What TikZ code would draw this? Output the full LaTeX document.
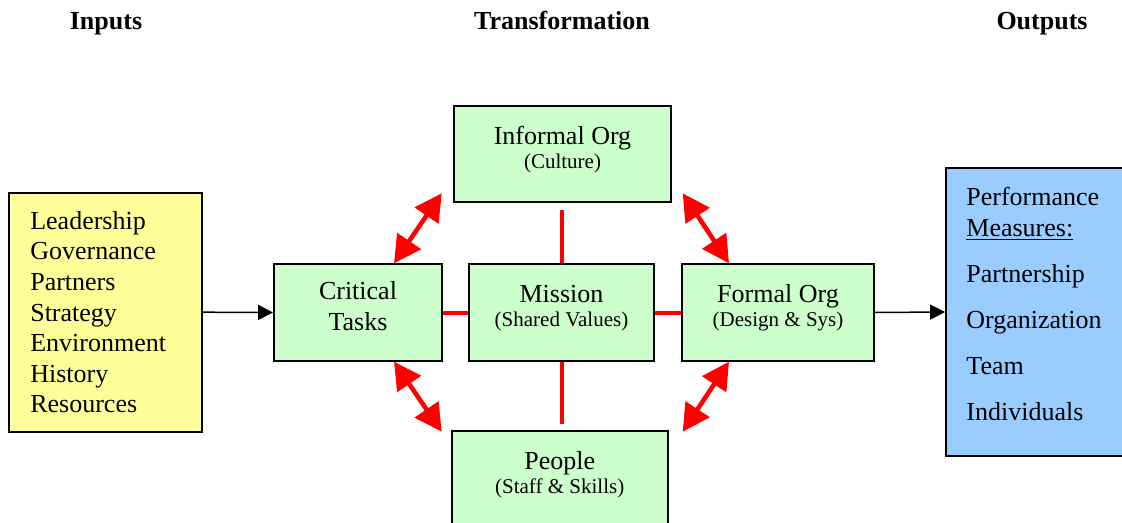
\documentclass[tikz,border=0pt]{standalone}
\usepackage{fontspec}
\setmainfont{Liberation Serif}
\usetikzlibrary{arrows.meta,positioning,calc}

\definecolor{boxgreen}{HTML}{CCFFCC}
\definecolor{boxyellow}{HTML}{FFFF99}
\definecolor{boxblue}{HTML}{99CCFF}

\newcommand{\subtxt}{\fontsize{10.5}{12.5}\selectfont}
\newcommand{\boxtext}[1]{\raisebox{2pt}[\height][\depth]{\begin{tabular}{@{}c@{}}#1\end{tabular}}}

\begin{document}
\begin{tikzpicture}[
    x=0.5pt, y=-0.5pt,
    font=\fontsize{13}{15.5}\selectfont,
    head/.style={font=\fontsize{13}{15.5}\selectfont\bfseries, anchor=base, inner sep=0pt},
    core/.style={
        draw, line width=0.9pt,
        fill=boxgreen,
        minimum height=48.5pt,
        inner sep=0pt
    },
    link/.style={red, line width=2pt},
    pull/.style={red, line width=2.3pt,
        {Triangle[length=13.5pt,width=14pt]}-{Triangle[length=13.5pt,width=14pt]}},
    flow/.style={line width=0.75pt, -{Triangle[length=7.5pt,width=7.5pt]}},
]
\useasboundingbox (0,0) rectangle (1122,523);

% column titles
\node[head] (hin)  at (106,30)  {Inputs};
\node[head] (htr)  at (562,30)  {Transformation};
\node[head] (hout) at (1042,30) {Outputs};

% inputs
\node[draw, line width=0.9pt, fill=boxyellow,
      font=\fontsize{13}{15.3}\selectfont,
      text width=75.5pt, align=left, inner xsep=10.5pt,
      minimum height=119.5pt] (inputs) at (105.8,312.2)
      {Leadership\\Governance\\Partners\\Strategy\\Environment\\History\\Resources};

% transformation
\node[core, minimum width=84pt] (crit) at (358,312.5)
      {\boxtext{Critical\\Tasks}};
\node[core, minimum width=92.5pt] (mission) at (561.5,312.5)
      {\boxtext{Mission\\[-3.5pt]{\subtxt (Shared Values)}}};
\node[core, minimum width=96pt] (formal) at (778,312.5)
      {\boxtext{Formal Org\\[-3.5pt]{\subtxt (Design \& Sys)}}};
\node[core, minimum width=108.5pt, minimum height=48pt] (informal) at (562.5,154)
      {\boxtext{Informal Org\\[-3.5pt]{\subtxt (Culture)}}};
\node[core, minimum width=108pt] (people) at (559.7,479.5)
      {\boxtext{People\\[-3.5pt]{\subtxt (Staff \& Skills)}}};

% outputs
\node[draw, line width=0.9pt, fill=boxblue, minimum width=96pt,
      minimum height=144pt, inner sep=0pt] (outbox) at (1042,312) {};
\node[anchor=north west, align=left, inner sep=0pt] (outlist) at (966,186.5)
      {Performance\\\underline{Measures:}\\[7.5pt]Partnership\\[7.5pt]Organization\\[7.5pt]Team\\[7.5pt]Individuals};

% red ties around the mission
\draw[link] (crit.east) -- (mission.west);
\draw[link] (mission.east) -- (formal.west);
\draw[link, shorten <=3.5pt] (mission.north |- informal.south) -- (mission.north);
\draw[link, shorten >=3.3pt] (mission.south) -- (mission.south |- people.north);

\coordinate (ulA) at (441.7,193.3);
\coordinate (ulB) at (394,263.3);
\coordinate (urA) at (682.7,193.3);
\coordinate (urB) at (729,263.3);
\coordinate (llA) at (394,361.7);
\coordinate (llB) at (441.7,431.7);
\coordinate (lrA) at (729,361.7);
\coordinate (lrB) at (682.7,431.7);
\draw[pull] (ulA) -- (ulB);
\draw[pull] (urA) -- (urB);
\draw[pull] (llA) -- (llB);
\draw[pull] (lrA) -- (lrB);

\draw[flow] (inputs.east) -- (crit.west);
\draw[flow] (formal.east) -- (outbox.west);

\end{tikzpicture}
\end{document}
